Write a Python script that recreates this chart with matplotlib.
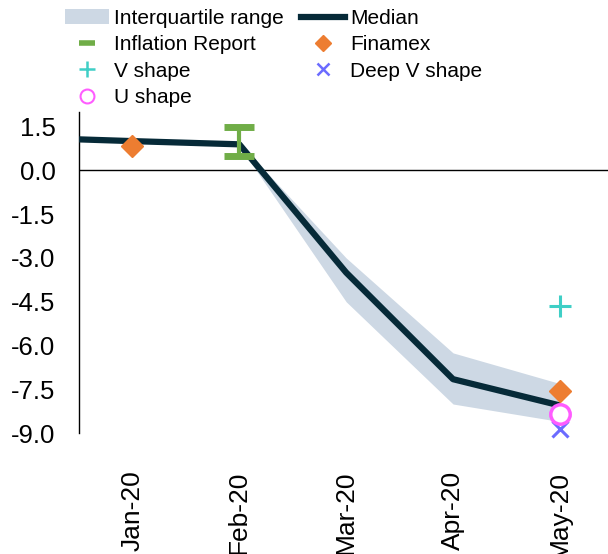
import matplotlib.pyplot as plt
from matplotlib.lines import Line2D
from matplotlib.patches import Patch

plt.rcParams['font.family'] = ['Liberation Sans', 'DejaVu Sans']

months = ["Jan-20", "Feb-20", "Mar-20", "Apr-20", "May-20"]
median_start = 1.06             # value where the line meets the axis
median = [1.0, 0.89, -3.5, -7.15, -8.05]
iqr_low = [0.95, 0.84, -4.5, -8.0, -8.6]
iqr_high = [1.05, 0.94, -3.0, -6.25, -7.3]
inflation_report = [1.0]        # Feb-20, range 0.5 to 1.5
inflation_err = [0.5]
finamex = [0.82, -7.55]         # Jan-20, May-20
v_shape = [-4.65]               # May-20
deep_v = [-8.85]
u_shape = [-8.35]

x = list(range(len(months)))

fig = plt.figure(figsize=(6.08, 5.54), dpi=100)
ax = fig.add_axes([0.13, 0.218, 0.87, 0.58])

ax.fill_between(x, iqr_low, iqr_high, color="#cdd8e4", linewidth=0, zorder=1)
ax.axhline(0, color="black", linewidth=1, zorder=2)
ax.plot([-0.5] + x, [median_start] + median, color="#062a38", linewidth=4.5,
        zorder=3, solid_capstyle="butt")
ax.errorbar([1], inflation_report, yerr=inflation_err, fmt="none", ecolor="#70ad47",
            elinewidth=3, capsize=10.5, capthick=5, zorder=4)
ax.plot([0, 4], finamex, linestyle="none", marker="D", markersize=11,
        color="#ed7d31", zorder=5)
ax.plot([4], v_shape, linestyle="none", marker="+", markersize=16, mew=2.2,
        color="#3fcfc6", zorder=5)
ax.plot([4], deep_v, linestyle="none", marker="x", markersize=12, mew=2.2,
        color="#6b6bff", zorder=5, clip_on=False)
ax.plot([4], u_shape, linestyle="none", marker="o", markersize=14, mew=2.5,
        markerfacecolor="white", markeredgecolor="#ff5cff", zorder=6)

ax.set_xlim(-0.5, 4.45)
ax.set_ylim(-9.0, 2.0)
ax.set_yticks([1.5, 0, -1.5, -3.0, -4.5, -6.0, -7.5, -9.0])
ax.set_yticklabels(["1.5", "0.0", "-1.5", "-3.0", "-4.5", "-6.0", "-7.5", "-9.0"])
ax.set_xticks(x)
ax.set_xticklabels(months, rotation=90, va="top")
ax.tick_params(axis="y", length=0, pad=17, labelsize=18.5)
ax.tick_params(axis="x", length=0, pad=27, labelsize=19)
for s in ["top", "right", "bottom"]:
    ax.spines[s].set_visible(False)
ax.spines["left"].set_linewidth(1)

h_iqr = Patch(facecolor="#cdd8e4", edgecolor="none")
h_med = Line2D([], [], color="#062a38", linewidth=4.5)
h_inf = Line2D([], [], linestyle="none", marker="_", markersize=12, mew=4, color="#70ad47")
h_fin = Line2D([], [], linestyle="none", marker="D", markersize=8, color="#ed7d31")
h_v = Line2D([], [], linestyle="none", marker="+", markersize=11, mew=1.8, color="#3fcfc6")
h_dv = Line2D([], [], linestyle="none", marker="x", markersize=9, mew=1.8, color="#6b6bff")
h_u = Line2D([], [], linestyle="none", marker="o", markersize=10, mew=1.5,
             markerfacecolor="white", markeredgecolor="#ff5cff")
# column-major order so rows read: IQR/Median, Inflation/Finamex, V/Deep V, U
handles = [h_iqr, h_inf, h_v, h_u, h_med, h_fin, h_dv]
labels = ["Interquartile range", "Inflation Report", "V shape", "U shape",
          "Median", "Finamex", "Deep V shape"]
fig.legend(handles, labels, ncol=2, loc="upper left", bbox_to_anchor=(0.083, 1.01),
           frameon=False, fontsize=15, handlelength=2.1, handletextpad=0.25,
           labelspacing=0.35, columnspacing=0.85, borderpad=0.2)

fig.savefig("out.png", dpi=100)
